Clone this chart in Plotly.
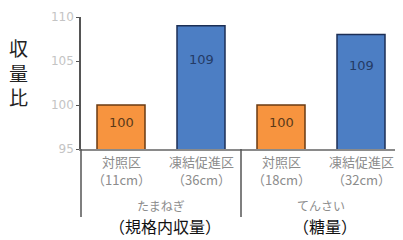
import plotly.graph_objects as go

# Data
category_names = ["対照区", "凍結促進区", "対照区", "凍結促進区"]
category_depths = ["（11cm）", "（36cm）", "（18cm）", "（32cm）"]
values = [100, 109, 100, 108]
value_labels = ["100", "109", "100", "109"]
groups = ["たまねぎ", "てんさい"]
group_subtitles = ["（規格内収量）", "（糖量）"]
y_ticks = [95, 100, 105, 110]
y_title = "収量比"

orange = "#F7943F"
blue = "#4C7EC4"
fills = [orange, blue, orange, blue]
edges = ["#6A3A12", "#1C2F55", "#6A3A12", "#1C2F55"]
label_colors = ["#5A3A1A", "#243B66", "#5A3A1A", "#243B66"]
label_frac = [0.6, 0.73, 0.6, 0.73]

ymin, ymax = 95, 110
xs = list(range(len(category_names)))

fig = go.Figure()
fig.add_trace(go.Bar(
    x=xs, y=values,
    marker=dict(color=fills, line=dict(color=edges, width=1.5)),
    width=0.6, hoverinfo="skip",
))

annotations = []
for i, v in enumerate(values):
    annotations.append(dict(
        x=i, y=ymin + label_frac[i] * (v - ymin), xref="x", yref="y",
        text=value_labels[i], showarrow=False,
        font=dict(family="DejaVu Sans", size=13, color=label_colors[i]),
    ))
    annotations.append(dict(
        x=i, y=-0.097, xref="x", yref="paper", yanchor="middle",
        text=category_names[i], showarrow=False,
        font=dict(family="Noto Sans CJK JP", size=13, color="#8C8C8C"),
    ))
    annotations.append(dict(
        x=i, y=-0.231, xref="x", yref="paper", yanchor="middle",
        text=category_depths[i], showarrow=False,
        font=dict(family="Noto Sans CJK JP", size=13, color="#8C8C8C"),
    ))
for g, (name, sub) in enumerate(zip(groups, group_subtitles)):
    annotations.append(dict(
        x=2 * g + 0.5, y=-0.43, xref="x", yref="paper", yanchor="middle",
        text=name, showarrow=False,
        font=dict(family="Noto Sans CJK JP", size=12, color="#8C8C8C"),
    ))
    annotations.append(dict(
        x=2 * g + 0.55, y=-0.585, xref="x", yref="paper", yanchor="middle",
        text=sub, showarrow=False,
        font=dict(family="Noto Sans CJK JP", size=16, color="#111111"),
    ))
annotations.append(dict(
    x=-0.195, y=0.58, xref="paper", yref="paper", xanchor="center", yanchor="middle",
    text="<br>".join(list(y_title)), showarrow=False,
    font=dict(family="Noto Sans CJK JP", size=19, color="#222222"),
))

shapes = []
for xp, bottom in [(0, -0.515), (0.5, -0.515), (1, -0.43)]:
    shapes.append(dict(type="line", xref="paper", yref="paper",
                       x0=xp, x1=xp, y0=0, y1=bottom,
                       line=dict(color="#555555", width=1.5)))

fig.update_layout(
    width=395, height=232,
    margin=dict(l=73, r=2, t=7, b=91),
    paper_bgcolor="white", plot_bgcolor="white",
    showlegend=False,
    bargap=0.4,
    xaxis=dict(range=[-0.5, 3.5], showticklabels=False, showgrid=False,
               zeroline=False, showline=True, linecolor="#8A8A8A", linewidth=1.5,
               ticks=""),
    yaxis=dict(range=[ymin, ymax], tickvals=y_ticks, showgrid=False, zeroline=False,
               showline=True, linecolor="#555555", linewidth=1.5,
               ticks="outside", ticklen=3, tickcolor="#555555",
               tickfont=dict(family="DejaVu Sans", size=12, color="#C4C4C4")),
    annotations=annotations,
    shapes=shapes,
)

fig.write_html("out.html")
